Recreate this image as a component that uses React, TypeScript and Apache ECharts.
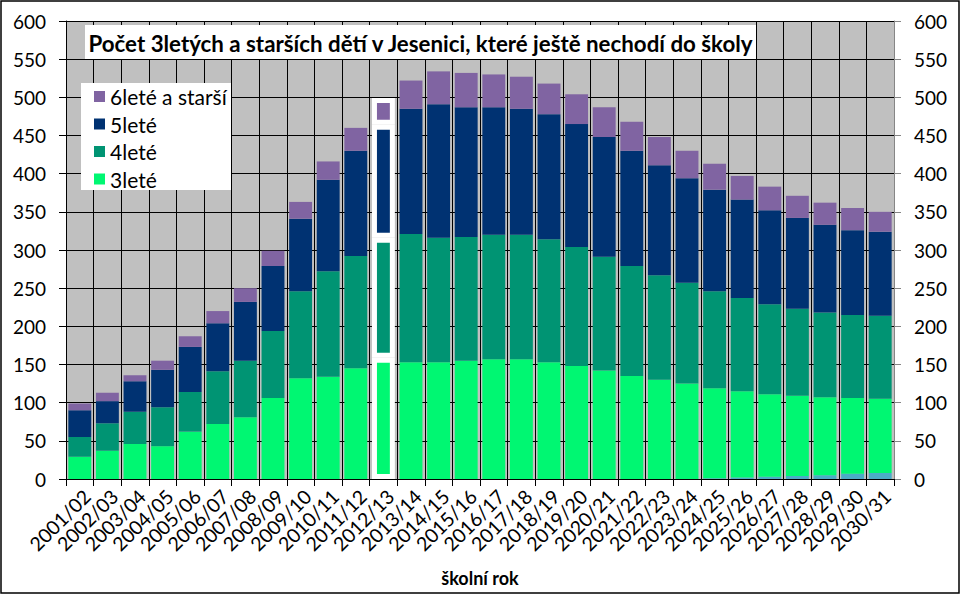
import React, { useEffect, useRef } from 'react';
import * as echarts from 'echarts';

const categories = [
  '2001/02', '2002/03', '2003/04', '2004/05', '2005/06', '2006/07', '2007/08', '2008/09', '2009/10', '2010/11',
  '2011/12', '2012/13', '2013/14', '2014/15', '2015/16', '2016/17', '2017/18', '2018/19', '2019/20', '2020/21',
  '2021/22', '2022/23', '2023/24', '2024/25', '2025/26', '2026/27', '2027/28', '2028/29', '2029/30', '2030/31',
];

// unlabelled bottom segment (light blue, not in legend)
const other = [
  null, null, null, null, null, null, null, null, null, null,
  null, null, null, null, null, null, null, null, null, null,
  null, null, null, 1, 2, 3, 4, 5, 7, 8,
];
const age3 = [
  29, 37, 46, 43, 62, 72, 81, 106, 132, 134,
  145, 159, 153, 153, 155, 157, 157, 153, 148, 142,
  135, 130, 125, 118, 113, 108, 105, 102, 99, 97,
];
const age4 = [
  26, 36, 42, 51, 52, 69, 74, 88, 114, 138,
  147, 157, 168, 163, 162, 163, 163, 161, 156, 149,
  144, 137, 132, 127, 122, 118, 114, 111, 109, 109,
];
const age5 = [
  35, 29, 40, 49, 59, 63, 77, 85, 95, 120,
  138, 148, 164, 175, 170, 167, 165, 164, 161, 157,
  151, 144, 137, 133, 129, 123, 119, 115, 111, 110,
];
const age6 = [
  9, 11, 8, 12, 14, 16, 18, 20, 22, 24,
  30, 35, 37, 43, 45, 43, 42, 40, 39, 39,
  38, 37, 36, 34, 31, 31, 29, 29, 29, 26,
];
const yTicks = { min: 0, max: 600, interval: 50 };
const highlighted = '2012/13';
const titleText = 'Počet 3letých a starších dětí v Jesenici, které ještě nechodí do školy';
const legendNames = ['6leté a starší', '5leté', '4leté', '3leté'];

const FONT = 'Lato, "Open Sans", sans-serif';

export default function App() {
  const ref = useRef<HTMLDivElement>(null);
  useEffect(() => {
    const chart = echarts.init(ref.current!, null, { renderer: 'svg' });
    const hi = categories.indexOf(highlighted);
    const mk = (name: string, values: (number | null)[], color: string) => ({
      name,
      type: 'bar',
      stack: 'total',
      barCategoryGap: '17%',
      itemStyle: { color },
      emphasis: { disabled: true },
      data: values.map((v, i) =>
        i === hi && v != null ? { value: v, itemStyle: { borderColor: '#ffffff', borderWidth: 5 } } : v
      ),
    });
    const axisLabel = { fontFamily: FONT, fontSize: 19, color: '#000', margin: 20 };
    chart.setOption({
      animation: false,
      backgroundColor: '#ffffff',
      grid: {
        left: 66, right: 67, top: 21, bottom: 116,
        outerBoundsMode: 'none',
        containLabel: false,
        show: true, backgroundColor: '#C0C0C0', borderWidth: 0,
      },
      xAxis: {
        type: 'category',
        data: categories,
        boundaryGap: true,
        axisLine: { show: true, lineStyle: { color: '#000', width: 1 } },
        axisTick: { show: true, interval: 0, length: 7, lineStyle: { color: '#000' } },
        splitLine: { show: true, interval: 0, lineStyle: { color: '#000', width: 1 } },
        axisLabel: {
          interval: 0, rotate: 45, fontFamily: FONT, fontSize: 19.5, color: '#000', margin: 7,
          verticalAlign: 'top',
        },
        name: 'školní rok',
        nameLocation: 'middle',
        nameGap: 90,
        nameTextStyle: { fontFamily: FONT, fontSize: 18, fontWeight: 'bold', color: '#000' },
      },
      yAxis: [
        {
          type: 'value', position: 'left', ...yTicks,
          axisLine: { show: true, lineStyle: { color: '#000' } },
          axisTick: { show: true, length: 7, lineStyle: { color: '#000' } },
          splitLine: { show: true, lineStyle: { color: '#000', width: 1 } },
          axisLabel,
        },
        {
          type: 'value', position: 'right', ...yTicks,
          axisLine: { show: true, lineStyle: { color: '#868686' } },
          axisTick: { show: true, length: 7, lineStyle: { color: '#868686' } },
          splitLine: { show: false },
          axisLabel,
        },
      ],
      legend: {
        data: legendNames,
        orient: 'vertical',
        left: 94,
        top: 86,
        padding: 0,
        itemWidth: 11,
        itemHeight: 11,
        itemGap: 6.5,
        icon: 'rect',
        z: 10,
        textStyle: { fontFamily: FONT, fontSize: 21, color: '#000', lineHeight: 20 },
        selectedMode: false,
      },
      graphic: [
        { type: 'rect', z: 5, shape: { x: 81, y: 83, width: 150, height: 107 }, style: { fill: '#ffffff' } },
        { type: 'rect', z: 5, shape: { x: 85, y: 25, width: 671, height: 34 }, style: { fill: '#ffffff' } },
        {
          type: 'text', z: 6, x: 420.5, y: 43,
          style: {
            text: titleText, fontFamily: FONT, fontSize: 22.3, fontWeight: 'bold', fill: '#000',
            align: 'center', verticalAlign: 'middle',
          },
        },
        {
          type: 'rect', z: 20, silent: true,
          shape: { x: 1, y: 1, width: 958, height: 592 },
          style: { fill: 'none', stroke: '#000', lineWidth: 1.5 },
        },
      ],
      series: [
        mk('ostatní', other, '#4BACC6'),
        mk('3leté', age3, '#00F772'),
        mk('4leté', age4, '#009473'),
        mk('5leté', age5, '#003272'),
        mk('6leté a starší', age6, '#8064A2'),
      ],
    });
    return () => chart.dispose();
  }, []);
  return (
    <div
      ref={ref}
      style={{ position: 'fixed', left: 0, top: 0, width: 961, height: 595, background: '#fff' }}
    />
  );
}
